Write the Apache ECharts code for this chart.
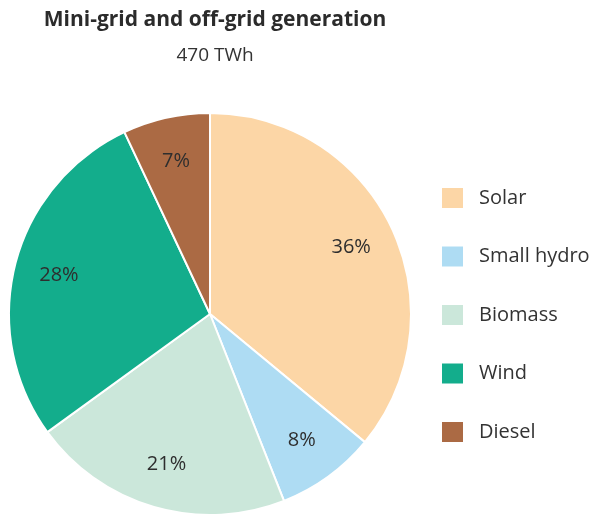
<!DOCTYPE html>
<html>
<head>
<meta charset="utf-8">
<script src="https://cdn.jsdelivr.net/npm/echarts@6/dist/echarts.min.js"></script>
<style>
  html, body { margin: 0; padding: 0; background: #fff; }
  #chart { width: 606px; height: 518px; }
</style>
</head>
<body>
<div id="chart"></div>
<script>
// shares of mini-grid / off-grid generation (%)
var categories = ['Solar', 'Small hydro', 'Biomass', 'Wind', 'Diesel']
var shares = [36, 8, 21, 28, 7]
var colors = ['#FCD6A6', '#AEDCF3', '#CBE7DA', '#13AD8C', '#AB6A44']

var myChart = echarts.init(document.getElementById('chart'))

var data = []
for (var i = 0; i < categories.length; i++) {
  data.push({ name: categories[i], value: shares[i], itemStyle: { color: colors[i] } })
}

var font = '"Open Sans", "Noto Sans", sans-serif'

var option = {
  animation: false,
  title: {
    text: 'Mini-grid and off-grid generation',
    subtext: '470 TWh',
    left: 210,
    textAlign: 'center',
    top: 5,
    itemGap: 15,
    textStyle: { fontFamily: font, fontSize: 21, fontWeight: 'bold', color: '#2b2b2b', letterSpacing: -0.5 },
    subtextStyle: { fontFamily: font, fontSize: 19, color: '#333' }
  },
  legend: {
    orient: 'vertical',
    left: 435,
    top: 181,
    itemWidth: 23,
    itemHeight: 22,
    itemGap: 34.5,
    icon: 'rect',
    data: categories,
    textStyle: { fontFamily: font, fontSize: 20, color: '#333', padding: [0, 0, 0, 10] }
  },
  series: [
    {
      // the slices
      type: 'pie',
      center: [210, 314],
      radius: [0, 201],
      startAngle: 90,
      clockwise: true,
      label: { show: false },
      labelLine: { show: false },
      itemStyle: { borderColor: '#fff', borderWidth: 2 },
      data: data
    },
    {
      // invisible ring carrying the percent labels further out
      type: 'pie',
      center: [210, 314],
      radius: [110, 196],
      startAngle: 90,
      clockwise: true,
      silent: true,
      legendHoverLink: false,
      itemStyle: { color: 'transparent', borderWidth: 0 },
      label: {
        show: true,
        position: 'inner',
        formatter: '{c}%',
        fontFamily: font,
        fontSize: 20,
        color: '#2e2e2e'
      },
      labelLine: { show: false },
      data: categories.map(function (c, i) { return { name: c + ' ', value: shares[i] } })
    }
  ]
}

myChart.setOption(option)
</script>
</body>
</html>
